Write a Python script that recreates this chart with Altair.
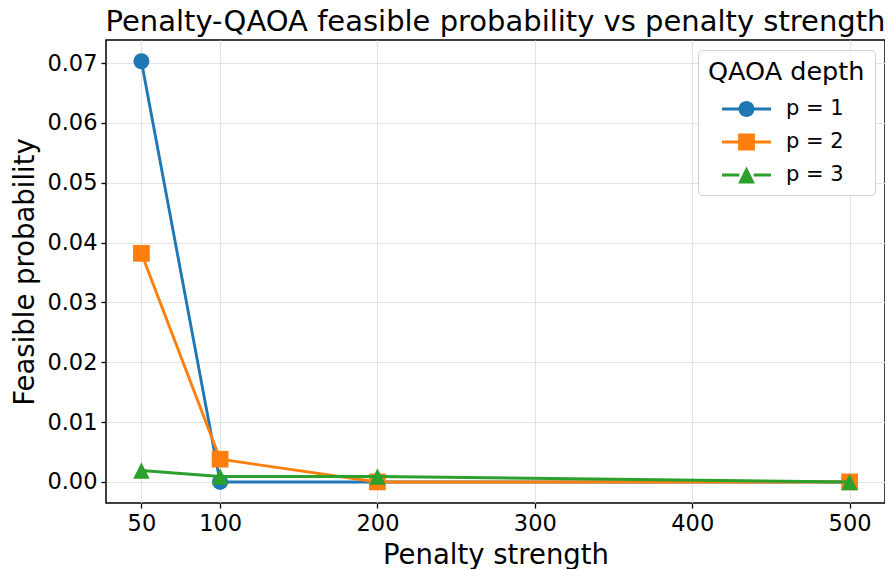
import altair as alt
import pandas as pd

penalties = [50, 100, 200, 500]
series_names = ["p = 1", "p = 2", "p = 3"]
p1_values = [0.0703, 0.0, 0.0, 0.0]
p2_values = [0.0382, 0.0038, 0.0, 0.0]
p3_values = [0.0019, 0.0009, 0.0009, 0.0]
x_ticks = [50, 100, 200, 300, 400, 500]
y_ticks = [0.0, 0.01, 0.02, 0.03, 0.04, 0.05, 0.06, 0.07]
colors = ["#1f77b4", "#ff7f0e", "#2ca02c"]

rows = []
for name, vals in zip(series_names, [p1_values, p2_values, p3_values]):
    for x, v in zip(penalties, vals):
        rows.append({"penalty": x, "prob": v, "series": name})
df = pd.DataFrame(rows)

FONT = "DejaVu Sans"

x_enc = alt.X("penalty:Q", title="Penalty strength",
              scale=alt.Scale(domain=[27.5, 522.5], nice=False, zero=False),
              axis=alt.Axis(values=x_ticks, format="d"))
y_enc = alt.Y("prob:Q", title="Feasible probability",
              scale=alt.Scale(domain=[-0.00352, 0.07385], nice=False, zero=False),
              axis=alt.Axis(values=y_ticks, format=".2f"))

plot_shapes = ["circle", "square", "M0,-1L1,1L-1,1Z"]
plot_sizes = [256, 280, 270]

legend_shapes = [
    "M-3.06,-0.19H-0.9V0.19H-3.06Z M0.9,-0.19H3.06V0.19H0.9Z M1,0A1,1 0 1,1 -1,0A1,1 0 1,1 1,0Z",
    "M-3.06,-0.19H-0.9V0.19H-3.06Z M0.9,-0.19H3.06V0.19H0.9Z M-1.05,-1.05H1.05V1.05H-1.05Z",
    "M-3.06,-0.19H-0.9V0.19H-3.06Z M0.9,-0.19H3.06V0.19H0.9Z M0,-1.05L1.05,1.05H-1.05Z",
]

base = alt.Chart(df)
layers = []
for name, col, shp, sz in zip(series_names, colors, plot_shapes, plot_sizes):
    sub = base.transform_filter(alt.datum.series == name)
    layers.append(sub.mark_line(strokeWidth=2.9, color=col).encode(x=x_enc, y=y_enc))
    layers.append(sub.mark_point(filled=True, opacity=1, shape=shp, size=sz,
                                 strokeWidth=0, color=col).encode(x=x_enc, y=y_enc))

legend_layer = base.transform_filter("false").mark_point(filled=True, opacity=1).encode(
    x=x_enc, y=y_enc,
    color=alt.Color("series:N", scale=alt.Scale(domain=series_names, range=colors),
                    title="QAOA depth"),
    shape=alt.Shape("series:N", scale=alt.Scale(domain=series_names, range=legend_shapes),
                    title="QAOA depth"),
)
layers.append(legend_layer)

chart = alt.layer(*layers).properties(
    width=779, height=463,
    title=alt.TitleParams("Penalty-QAOA feasible probability vs penalty strength",
                          font=FONT, fontSize=29, fontWeight="normal", color="black",
                          anchor="middle", offset=3),
    autosize=alt.AutoSizeParams(type="none"),
    padding={"left": 98, "top": 32, "right": 0, "bottom": 66},
).configure_view(
    stroke="black", strokeWidth=1.5
).configure_axis(
    labelFont=FONT, labelFontSize=22.5, labelColor="black",
    titleFont=FONT, titleFontSize=27.5, titleFontWeight="normal", titleColor="black",
    tickColor="black", tickSize=5, tickWidth=1.3,
    domain=False, grid=True, gridColor="#e3e3e3", gridWidth=1,
).configure_axisX(
    labelPadding=4, titlePadding=7
).configure_axisY(
    labelPadding=4, titlePadding=7
).configure_legend(
    orient="top-right", offset=10,
    fillColor="white", strokeColor="#d0d0d0", cornerRadius=4, padding=10,
    titleFont=FONT, titleFontSize=25.5, titleFontWeight="normal", titleColor="black",
    labelFont=FONT, labelFontSize=21, labelColor="black",
    symbolSize=256, symbolStrokeWidth=0, symbolOffset=28, labelOffset=29,
    rowPadding=11, titlePadding=13,
)

chart.save("out.html", embed_options={"renderer": "svg", "actions": False})
